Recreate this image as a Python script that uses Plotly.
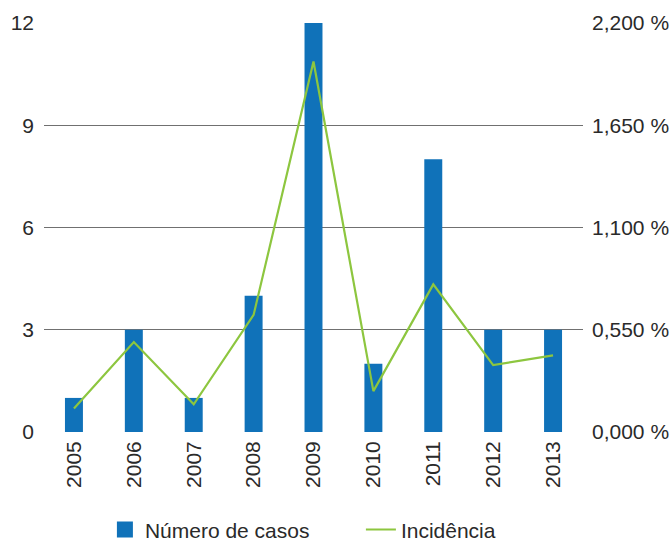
import plotly.graph_objects as go

years = ["2005", "2006", "2007", "2008", "2009", "2010", "2011", "2012", "2013"]
casos = [1, 3, 1, 4, 12, 2, 8, 3, 3]
incidencia = [127, 484, 149, 630, 1993, 220, 794, 360, 412]

left_ticks = [0, 3, 6, 9, 12]
right_ticks = [0, 550, 1100, 1650, 2200]
right_labels = ["0,000 %", "0,550 %", "1,100 %", "1,650 %", "2,200 %"]

BLUE = "#1072b9"
GREEN = "#8dc63f"
FONT = "Liberation Sans, Arial, sans-serif"
TXT = "#2a2a2a"

fig = go.Figure()
fig.add_trace(go.Bar(x=years, y=casos, marker=dict(color=BLUE, line=dict(width=0)),
                     width=0.3, showlegend=False, name="Número de casos"))
# legend entry for bars (larger square symbol)
fig.add_trace(go.Scatter(x=[None], y=[None], mode="markers", name="Número de casos",
                         marker=dict(symbol="square", size=16, color=BLUE)))
fig.add_trace(go.Scatter(x=years, y=incidencia, mode="lines", name="Incidência",
                         line=dict(color=GREEN, width=2.2), yaxis="y2"))

fig.update_layout(
    width=671, height=543,
    margin=dict(l=44, r=88, t=23, b=111),
    plot_bgcolor="white", paper_bgcolor="white",
    font=dict(family=FONT, size=21, color=TXT),
    xaxis=dict(type="category", tickangle=-90, showgrid=False, showline=False,
               ticks="", tickfont=dict(size=21, color=TXT), ticklabelstandoff=4,
               automargin=False),
    yaxis=dict(range=[0, 12], tickvals=left_ticks, showgrid=True, gridcolor="#707070",
               gridwidth=1, zeroline=False, showline=False, ticks="",
               tickfont=dict(size=21, color=TXT), ticklabelstandoff=9, automargin=False),
    yaxis2=dict(range=[0, 2200], tickvals=right_ticks, ticktext=right_labels,
                overlaying="y", side="right", showgrid=False, zeroline=False,
                showline=False, ticks="", tickfont=dict(size=21, color=TXT),
                ticklabelstandoff=8, automargin=False),
    legend=dict(orientation="h", x=0.113, xanchor="left", xref="paper",
                y=0.062, yanchor="top", yref="container",
                font=dict(size=21, color=TXT), entrywidth=211,
                bgcolor="rgba(0,0,0,0)", itemsizing="trace"),
)

fig.write_html("out.html")
